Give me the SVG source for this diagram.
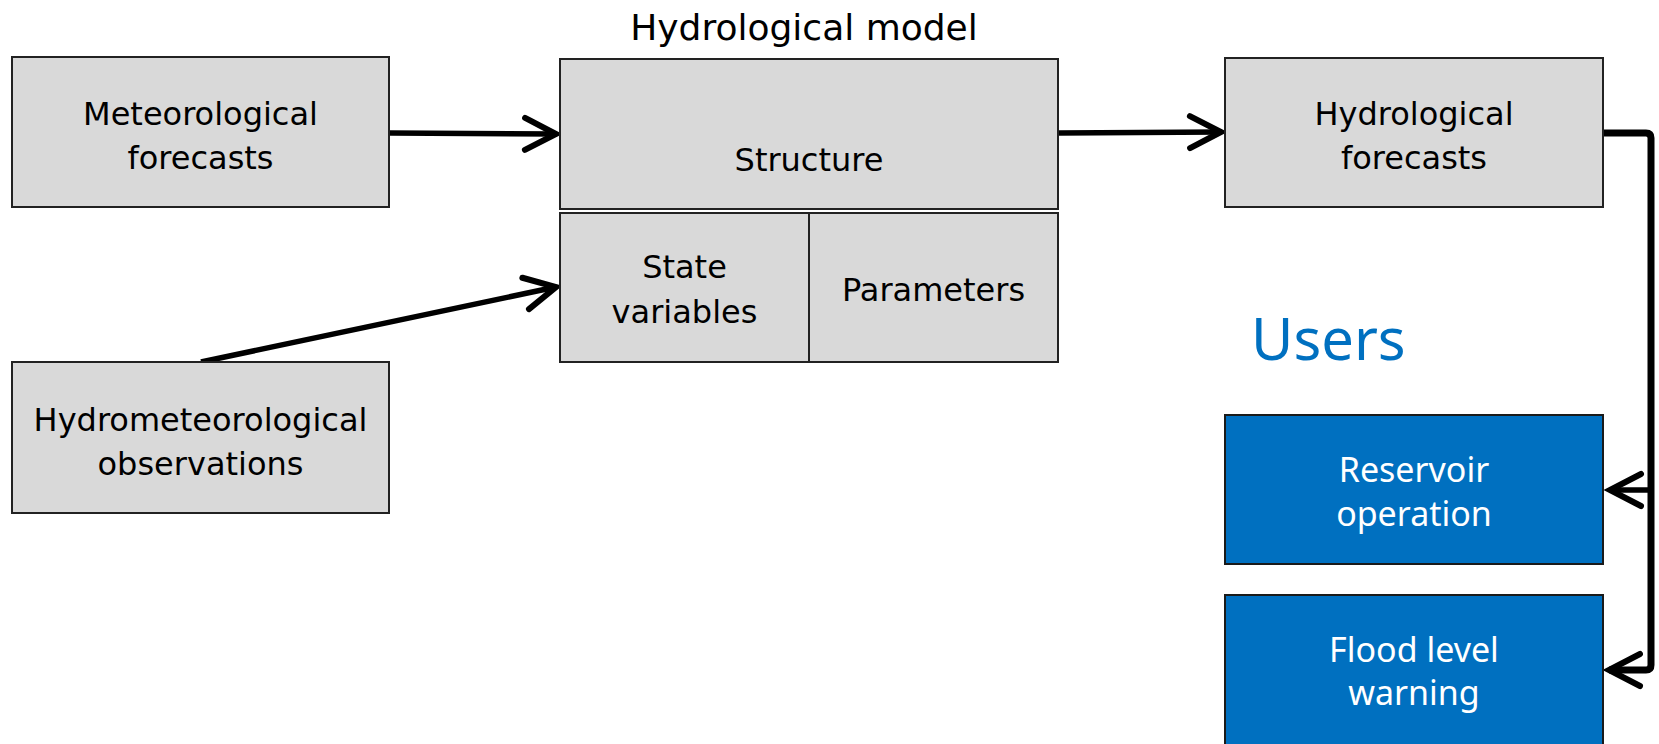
<svg xmlns="http://www.w3.org/2000/svg" width="1659" height="744" viewBox="0 0 1659 744">
<style>
.g{fill:#D9D9D9;stroke:#222;stroke-width:2}
.b{fill:#0070C0;stroke:#1a1a1a;stroke-width:2}
.t{font-family:"DejaVu Sans",sans-serif;font-size:32px;fill:#000;text-anchor:middle}
.w{font-family:"Noto Sans","Open Sans",sans-serif;font-size:34px;fill:#fff;text-anchor:middle}
.c{fill:none;stroke:#000;stroke-width:5.5}
.c2{fill:none;stroke:#000;stroke-width:7}
</style>
<defs>
<marker id="arr" markerUnits="userSpaceOnUse" markerWidth="40" markerHeight="40" viewBox="-35 -20 40 40" refX="0" refY="0" orient="auto" overflow="visible">
<path d="M -31 -16 L 0 0 L -31 16" fill="none" stroke="#000" stroke-width="6" stroke-linecap="round" stroke-linejoin="miter"/>
</marker>
</defs>
<rect width="1659" height="744" fill="#fff"/>
<g id="connectors">
<line class="c" x1="390" y1="133" x2="556" y2="134" marker-end="url(#arr)"/>
<line class="c" x1="201" y1="362" x2="556" y2="287" marker-end="url(#arr)"/>
<line class="c" x1="1059" y1="133" x2="1221" y2="132" marker-end="url(#arr)"/>
<path class="c2" d="M 1603 133 H 1646 Q 1651 133 1651 138 V 665 Q 1651 670 1646 670 H 1609" marker-end="url(#arr)"/>
<line class="c" x1="1651" y1="490" x2="1610" y2="490" marker-end="url(#arr)"/>
</g>
<g id="title"><text x="804" y="40" font-family="DejaVu Sans,sans-serif" font-size="36" text-anchor="middle">Hydrological model</text></g>
<g id="met">
<rect class="g" x="12" y="57" width="377" height="150"/>
<text class="t" x="200.5" y="125">Meteorological</text>
<text class="t" x="200.5" y="169">forecasts</text>
</g>
<g id="structure">
<rect class="g" x="560" y="59" width="498" height="150"/>
<text class="t" x="809" y="171">Structure</text>
</g>
<g id="state">
<rect class="g" x="560" y="213" width="249" height="149"/>
<text class="t" x="684.5" y="278">State</text>
<text class="t" x="684.5" y="323">variables</text>
</g>
<g id="params">
<rect class="g" x="809" y="213" width="249" height="149"/>
<text class="t" x="933.5" y="301">Parameters</text>
</g>
<g id="hydrofc">
<rect class="g" x="1225" y="58" width="378" height="149"/>
<text class="t" x="1414" y="125">Hydrological</text>
<text class="t" x="1414" y="169">forecasts</text>
</g>
<g id="obs">
<rect class="g" x="12" y="362" width="377" height="151"/>
<text class="t" x="200.5" y="431">Hydrometeorological</text>
<text class="t" x="200.5" y="475">observations</text>
</g>
<g id="users"><text x="1251" y="360" font-family="Noto Sans,Open Sans,sans-serif" font-size="58" fill="#0070C0">Users</text></g>
<g id="reservoir">
<rect class="b" x="1225" y="415" width="378" height="149"/>
<text class="w" x="1414" y="482">Reservoir</text>
<text class="w" x="1414" y="526">operation</text>
</g>
<g id="flood">
<rect class="b" x="1225" y="595" width="378" height="160"/>
<text class="w" x="1414" y="662">Flood level</text>
<text class="w" x="1414" y="705">warning</text>
</g>
</svg>
